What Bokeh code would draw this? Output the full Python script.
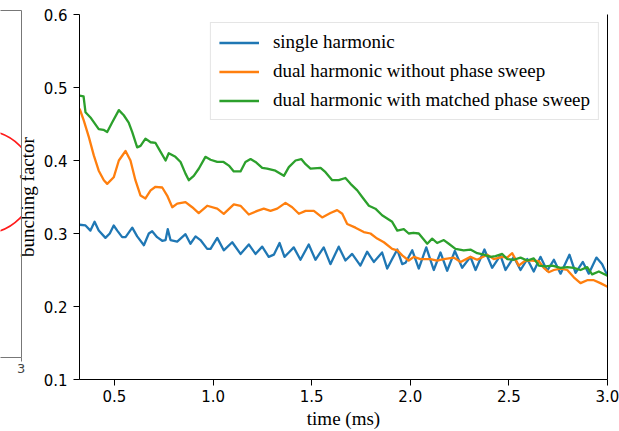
import numpy as np
from bokeh.plotting import figure
from bokeh.models import (Range1d, LinearAxis, FixedTicker, NumeralTickFormatter,
                          Legend, LegendItem)
from bokeh.embed import file_html
from bokeh.resources import INLINE

# ---------------- data ----------------
t_single = [0.323, 0.353, 0.378, 0.399, 0.420, 0.454, 0.476, 0.496, 0.514, 0.539,
            0.556, 0.590, 0.615, 0.649, 0.674, 0.691, 0.716, 0.742, 0.759, 0.770,
            0.784, 0.818, 0.860, 0.885, 0.911, 0.936, 0.970, 0.987, 1.021, 1.054,
            1.097, 1.139, 1.181, 1.215, 1.249, 1.282, 1.308, 1.337, 1.362, 1.384,
            1.409, 1.443, 1.485, 1.519, 1.561, 1.595, 1.637, 1.671, 1.705, 1.747,
            1.781, 1.815, 1.857, 1.883, 1.908, 1.934, 1.959, 1.976, 2.010, 2.043,
            2.081, 2.119, 2.153, 2.187, 2.226, 2.263, 2.305, 2.331, 2.376, 2.415,
            2.457, 2.483, 2.525, 2.559, 2.593, 2.626, 2.660, 2.694, 2.728, 2.762,
            2.807, 2.838, 2.875, 2.905, 2.944, 2.973, 3.000]
bf_single = [0.312, 0.311, 0.304, 0.316, 0.304, 0.294, 0.300, 0.311, 0.304, 0.295,
             0.295, 0.308, 0.296, 0.284, 0.300, 0.303, 0.295, 0.290, 0.291, 0.306,
             0.291, 0.289, 0.299, 0.286, 0.296, 0.291, 0.279, 0.279, 0.294, 0.277,
             0.288, 0.272, 0.285, 0.272, 0.282, 0.268, 0.271, 0.287, 0.268, 0.274,
             0.281, 0.264, 0.285, 0.264, 0.281, 0.258, 0.282, 0.263, 0.272, 0.256,
             0.275, 0.261, 0.274, 0.252, 0.265, 0.278, 0.258, 0.260, 0.277, 0.252,
             0.281, 0.250, 0.274, 0.249, 0.276, 0.253, 0.268, 0.250, 0.278, 0.253,
             0.270, 0.250, 0.268, 0.250, 0.265, 0.248, 0.268, 0.249, 0.264, 0.245,
             0.271, 0.246, 0.261, 0.245, 0.267, 0.258, 0.242]

t_dual = [0.323, 0.344, 0.370, 0.395, 0.420, 0.446, 0.463, 0.496, 0.522, 0.556,
          0.581, 0.606, 0.632, 0.657, 0.683, 0.708, 0.742, 0.767, 0.793, 0.818,
          0.860, 0.894, 0.927, 0.970, 1.021, 1.054, 1.105, 1.139, 1.181, 1.224,
          1.257, 1.291, 1.325, 1.367, 1.401, 1.435, 1.469, 1.511, 1.553, 1.595,
          1.629, 1.655, 1.680, 1.722, 1.764, 1.798, 1.832, 1.866, 1.908, 1.934,
          1.959, 1.992, 2.018, 2.052, 2.102, 2.136, 2.170, 2.221, 2.255, 2.305,
          2.339, 2.390, 2.423, 2.466, 2.491, 2.517, 2.550, 2.584, 2.618, 2.652,
          2.677, 2.702, 2.728, 2.762, 2.796, 2.829, 2.863, 2.897, 2.931, 2.964,
          3.000]
bf_dual = [0.471, 0.455, 0.432, 0.407, 0.386, 0.373, 0.368, 0.377, 0.400, 0.413,
           0.400, 0.373, 0.352, 0.348, 0.359, 0.364, 0.363, 0.352, 0.336, 0.341,
           0.343, 0.336, 0.328, 0.338, 0.334, 0.327, 0.340, 0.338, 0.326, 0.331,
           0.334, 0.331, 0.334, 0.342, 0.336, 0.327, 0.331, 0.331, 0.322, 0.328,
           0.332, 0.327, 0.313, 0.308, 0.302, 0.300, 0.293, 0.288, 0.279, 0.277,
           0.270, 0.263, 0.268, 0.265, 0.265, 0.263, 0.265, 0.267, 0.261, 0.268,
           0.264, 0.271, 0.265, 0.268, 0.267, 0.273, 0.256, 0.263, 0.263, 0.262,
           0.253, 0.247, 0.250, 0.252, 0.250, 0.240, 0.232, 0.236, 0.236, 0.232,
           0.227]

t_matched = [0.323, 0.343, 0.353, 0.378, 0.420, 0.444, 0.463, 0.488, 0.522, 0.547,
             0.572, 0.590, 0.615, 0.632, 0.657, 0.683, 0.708, 0.725, 0.759, 0.775,
             0.809, 0.835, 0.860, 0.877, 0.902, 0.928, 0.961, 0.987, 1.021, 1.053,
             1.080, 1.105, 1.139, 1.164, 1.190, 1.215, 1.249, 1.274, 1.316, 1.359,
             1.384, 1.418, 1.447, 1.469, 1.494, 1.545, 1.570, 1.604, 1.637, 1.671,
             1.697, 1.731, 1.756, 1.790, 1.823, 1.857, 1.908, 1.934, 1.967, 1.992,
             2.016, 2.043, 2.086, 2.111, 2.136, 2.170, 2.195, 2.229, 2.271, 2.305,
             2.339, 2.373, 2.407, 2.432, 2.466, 2.491, 2.525, 2.559, 2.593, 2.626,
             2.652, 2.686, 2.720, 2.762, 2.796, 2.829, 2.863, 2.897, 2.922, 2.956,
             3.000]
bf_matched = [0.489, 0.488, 0.466, 0.459, 0.443, 0.442, 0.439, 0.452, 0.469, 0.462,
              0.452, 0.439, 0.418, 0.420, 0.430, 0.425, 0.424, 0.416, 0.400, 0.410,
              0.405, 0.398, 0.382, 0.373, 0.379, 0.389, 0.405, 0.401, 0.398, 0.398,
              0.393, 0.385, 0.385, 0.398, 0.402, 0.398, 0.390, 0.389, 0.386, 0.379,
              0.391, 0.400, 0.402, 0.395, 0.389, 0.390, 0.384, 0.373, 0.373, 0.376,
              0.368, 0.359, 0.350, 0.338, 0.334, 0.325, 0.316, 0.304, 0.306, 0.300,
              0.301, 0.300, 0.286, 0.293, 0.287, 0.291, 0.286, 0.279, 0.277, 0.278,
              0.273, 0.271, 0.268, 0.269, 0.272, 0.265, 0.264, 0.267, 0.263, 0.266,
              0.256, 0.255, 0.256, 0.253, 0.254, 0.253, 0.250, 0.254, 0.244, 0.248,
              0.242]

series_labels = ["single harmonic",
                 "dual harmonic without phase sweep",
                 "dual harmonic with matched phase sweep"]
series_colors = ["#1f77b4", "#ff7f0e", "#2ca02c"]

x_ticks = [0.5, 1.0, 1.5, 2.0, 2.5, 3.0]
y_ticks = [0.1, 0.2, 0.3, 0.4, 0.5, 0.6]
x_label = "time (ms)"
y_label = "bunching factor"

# remnant of a neighbouring panel at the left edge of the picture
left_tick_label = "3"

SERIF = "Liberation Serif"
SANS = "DejaVu Sans"

# ---------------- main chart ----------------
p = figure(width=619, height=431, x_range=Range1d(0.3225, 3.0), y_range=Range1d(0.1, 0.6),
           output_backend="svg", toolbar_location=None,
           min_border_left=79, min_border_right=12, min_border_top=14, min_border_bottom=52)
p.outline_line_color = None
p.grid.visible = False
p.border_fill_alpha = 0

for ax in (p.xaxis[0], p.yaxis[0]):
    ax.formatter = NumeralTickFormatter(format="0.0")
    ax.major_tick_in = 0
    ax.major_tick_out = 6
    ax.minor_tick_line_color = None
    ax.axis_line_color = "black"
    ax.major_tick_line_color = "black"
    ax.major_label_text_font = SANS
    ax.major_label_text_font_size = "15px"
    ax.major_label_text_color = "black"
    ax.axis_label_text_font = SERIF
    ax.axis_label_text_font_size = "19px"
    ax.axis_label_text_font_style = "normal"
    ax.axis_label_text_color = "black"

p.xaxis[0].ticker = FixedTicker(ticks=x_ticks)
p.yaxis[0].ticker = FixedTicker(ticks=y_ticks)
p.xaxis[0].major_label_standoff = 4
p.yaxis[0].major_label_standoff = 6
p.xaxis[0].axis_label = x_label
p.xaxis[0].axis_label_standoff = 3
p.yaxis[0].axis_label = y_label
p.yaxis[0].axis_label_standoff = 3

rax = LinearAxis(ticker=FixedTicker(ticks=[]))
rax.major_tick_in = 0
rax.major_tick_out = 0
rax.minor_tick_line_color = None
rax.major_label_text_font_size = "0px"
rax.major_label_standoff = 0
rax.axis_line_color = "black"
p.add_layout(rax, "right")

renderers = []
for t, v, c in zip([t_single, t_dual, t_matched], [bf_single, bf_dual, bf_matched], series_colors):
    r = p.line(t, v, line_color=c, line_width=2.3, line_join="round")
    renderers.append(r)

legend = Legend(items=[LegendItem(label=lab, renderers=[r]) for lab, r in zip(series_labels, renderers)],
                location="top_right", margin=8, padding=8, spacing=7,
                glyph_width=40, glyph_height=21, label_height=21, label_standoff=14,
                label_text_font=SERIF, label_text_font_size="19px", label_text_color="black",
                border_line_color="#cccccc", border_line_width=1,
                background_fill_color="white", background_fill_alpha=0.8)
p.add_layout(legend, "center")

# ---------------- remnant of the neighbouring panel (overlay at the left edge) ----------------
pa = figure(width=25, height=431, x_range=Range1d(0, 21), y_range=Range1d(0, 347),
            output_backend="svg", toolbar_location=None,
            x_axis_location=None, y_axis_location=None,
            min_border_left=0, min_border_right=4, min_border_top=10, min_border_bottom=74)
pa.outline_line_color = None
pa.grid.visible = False
pa.background_fill_alpha = 0
pa.border_fill_alpha = 0
pa.styles = {"position": "absolute", "left": "0px", "top": "0px"}

edge_col = "#777777"
ax_b = LinearAxis(ticker=FixedTicker(ticks=[21]), major_label_overrides={21: left_tick_label})
ax_b.major_tick_in = 0
ax_b.major_tick_out = 4
ax_b.minor_tick_line_color = None
ax_b.axis_line_color = edge_col
ax_b.major_tick_line_color = edge_col
ax_b.major_label_text_font = SANS
ax_b.major_label_text_font_size = "13px"
ax_b.major_label_text_color = "#444444"
ax_b.major_label_standoff = 2
pa.add_layout(ax_b, "below")

for side in ("above", "right"):
    ax = LinearAxis(ticker=FixedTicker(ticks=[]))
    ax.major_tick_in = 0
    ax.major_tick_out = 0
    ax.minor_tick_line_color = None
    ax.major_label_text_font_size = "0px"
    ax.major_label_standoff = 0
    ax.axis_line_color = edge_col
    pa.add_layout(ax, side)

pa.circle(x=[-17.2], y=[175.5], radius=51.5, radius_units="screen",
          fill_color=None, line_color="#ff1a1a", line_width=1.6)

open("out.html", "w").write(file_html([p, pa], INLINE))
